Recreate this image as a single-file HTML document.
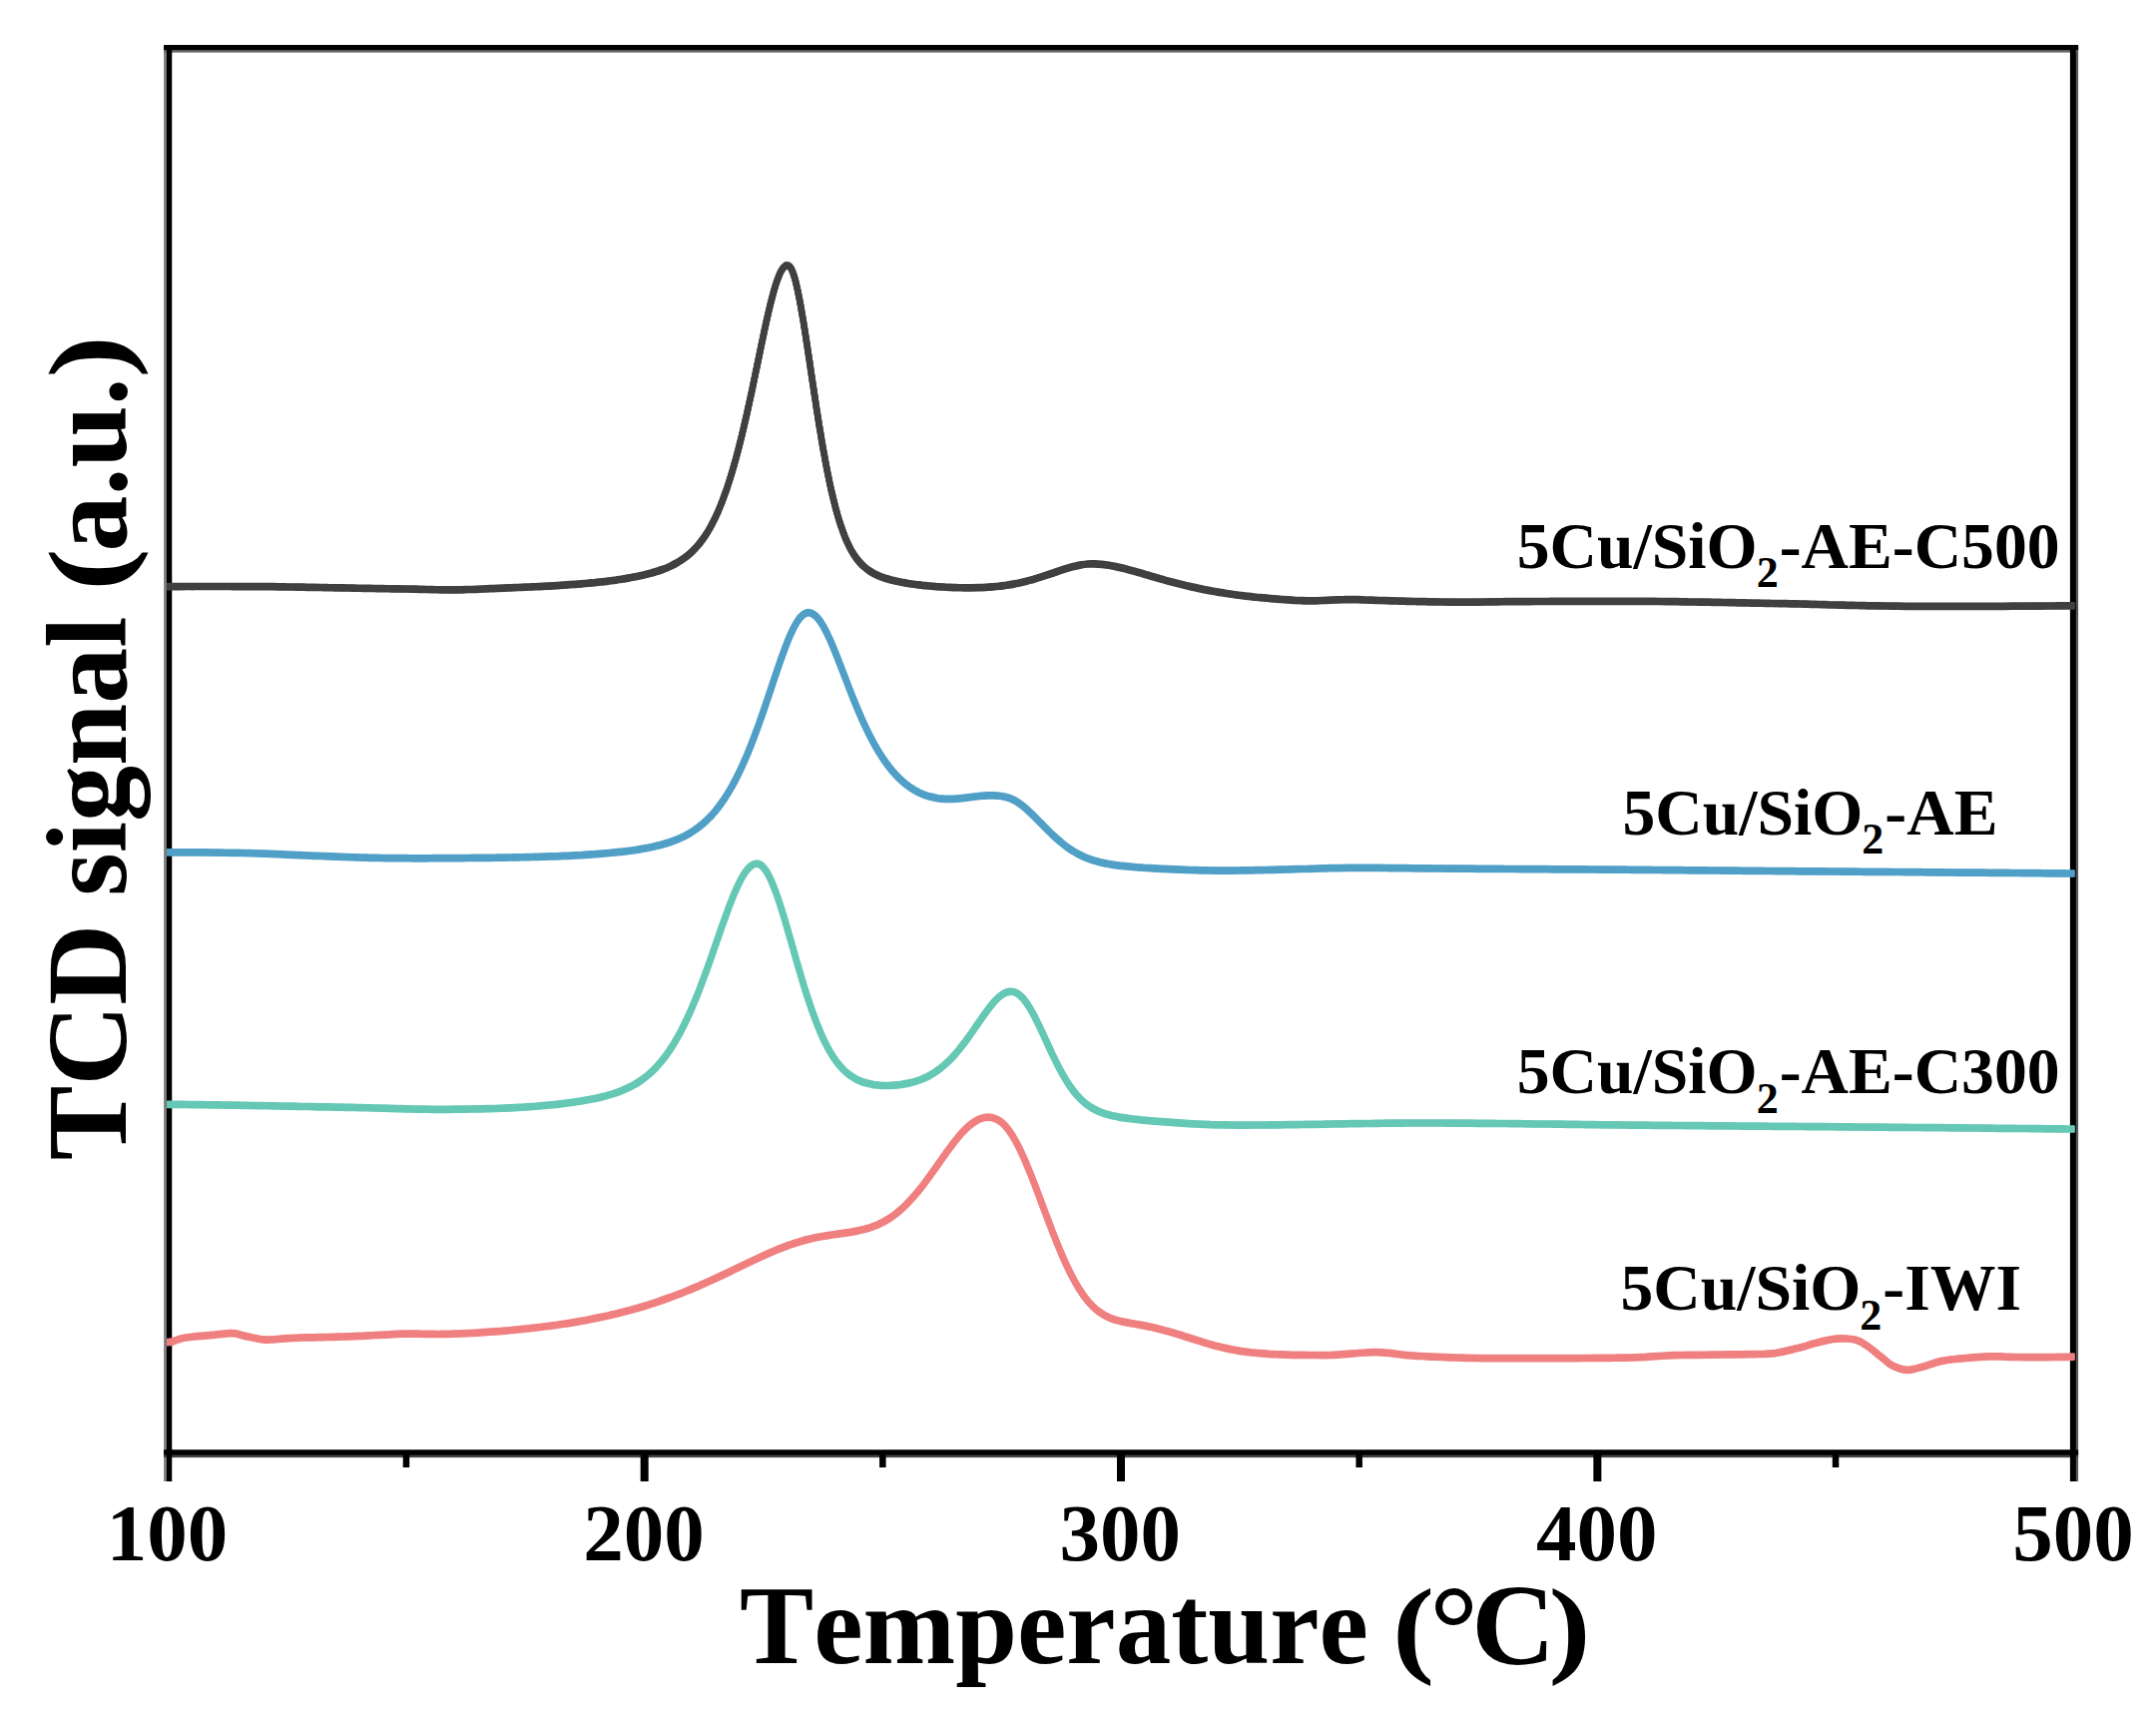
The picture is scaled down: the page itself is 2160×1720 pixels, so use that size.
<!DOCTYPE html>
<html lang="en"><head><meta charset="utf-8"><title>H2-TPR profiles</title>
<style>
html,body{margin:0;padding:0;background:#fff;}
body{width:2160px;height:1720px;overflow:hidden;}
svg{display:block;}
text{font-family:"Liberation Serif",serif;font-weight:bold;fill:#000;font-kerning:none;font-variant-ligatures:none;}
</style></head>
<body>
<svg width="2160" height="1720" viewBox="0 0 2160 1720">
<rect width="2160" height="1720" fill="#fff"/>
<g fill="#000">
<rect x="164.1" y="45" width="8.1" height="1439" fill="#808080"/>
<rect x="2074" y="45" width="8.1" height="1439" fill="#555"/>
<rect x="164.1" y="45" width="1918" height="7.6" fill="#666"/>
<rect x="164.1" y="1452.4" width="1918" height="7.7" fill="#444"/>
<rect x="166.9" y="45" width="5.3" height="1439"/>
<rect x="2073.9" y="45" width="5.9" height="1439"/>
<rect x="164.1" y="45" width="1918" height="5.1"/>
<rect x="164.1" y="1452.4" width="1918" height="5.2"/>
<rect x="641.65" y="1456" width="8" height="28"/><rect x="1119.00" y="1456" width="8" height="28"/><rect x="1596.35" y="1456" width="8" height="28"/><rect x="403.73" y="1456" width="6.5" height="14"/><rect x="881.08" y="1456" width="6.5" height="14"/><rect x="1358.42" y="1456" width="6.5" height="14"/><rect x="1835.78" y="1456" width="6.5" height="14"/>
</g>
<g fill="none" stroke-width="6.5" stroke-linejoin="round" stroke-linecap="butt">
<path id="c_red" d="M167.0 1344.6C169.3 1344.6 171.7 1344.4 173.8 1343.6C176.0 1342.7 178.2 1341.8 180.4 1341.2C182.7 1340.5 185.0 1340.1 187.3 1339.8C189.6 1339.4 192.0 1339.2 194.3 1339.0C196.6 1338.7 199.0 1338.5 201.3 1338.3C203.6 1338.2 206.0 1338.0 208.3 1337.8C210.6 1337.6 213.0 1337.3 215.3 1337.1C217.6 1336.8 220.0 1336.5 222.3 1336.3C224.6 1336.1 227.0 1335.8 229.3 1335.7C231.6 1335.6 234.0 1335.5 236.3 1335.9C238.6 1336.3 240.8 1337.1 243.1 1337.7C245.3 1338.4 247.6 1338.9 249.9 1339.3C252.2 1339.8 254.5 1340.4 256.8 1340.8C259.1 1341.3 261.4 1341.7 263.7 1341.9C266.1 1342.2 268.4 1342.1 270.8 1342.0C273.1 1341.9 275.4 1341.7 277.8 1341.5C280.1 1341.3 282.5 1341.1 284.8 1340.9C287.1 1340.7 289.5 1340.5 291.8 1340.4C294.1 1340.2 296.5 1340.1 298.8 1340.1C301.2 1340.0 303.5 1340.0 305.8 1339.9C308.2 1339.9 310.5 1339.8 312.9 1339.8C315.2 1339.7 317.6 1339.6 319.9 1339.6C322.2 1339.6 324.6 1339.5 326.9 1339.5C329.3 1339.4 331.6 1339.4 334.0 1339.3C336.3 1339.2 338.6 1339.2 341.0 1339.1C343.3 1339.0 345.7 1339.0 348.0 1338.9C350.4 1338.8 352.7 1338.7 355.0 1338.6C357.4 1338.5 359.7 1338.4 362.1 1338.3C364.4 1338.2 366.7 1338.1 369.1 1337.9C371.4 1337.8 373.8 1337.7 376.1 1337.5C378.4 1337.4 380.8 1337.3 383.1 1337.2C385.5 1337.0 387.8 1336.9 390.1 1336.8C392.5 1336.6 394.8 1336.5 397.2 1336.4C399.5 1336.3 401.8 1336.2 404.2 1336.2C406.5 1336.2 408.9 1336.1 411.2 1336.1C413.6 1336.1 415.9 1336.2 418.3 1336.2C420.6 1336.2 422.9 1336.3 425.3 1336.3C427.6 1336.3 430.0 1336.4 432.3 1336.4C434.7 1336.4 437.0 1336.5 439.3 1336.5C441.7 1336.5 444.0 1336.4 446.4 1336.4C448.7 1336.4 451.1 1336.3 453.4 1336.2C455.7 1336.1 458.1 1336.1 460.4 1336.0C462.8 1335.9 465.1 1335.8 467.5 1335.7C469.8 1335.6 472.1 1335.4 474.5 1335.3C476.8 1335.2 479.2 1335.1 481.5 1334.9C483.8 1334.8 486.2 1334.6 488.5 1334.4C490.8 1334.3 493.2 1334.1 495.5 1333.9C497.9 1333.7 500.2 1333.5 502.5 1333.4C504.9 1333.2 507.2 1333.0 509.5 1332.8C511.9 1332.5 514.2 1332.3 516.5 1332.1C518.9 1331.9 521.2 1331.6 523.5 1331.4C525.9 1331.2 528.2 1330.9 530.5 1330.7C532.8 1330.4 535.2 1330.1 537.5 1329.9C539.8 1329.6 542.2 1329.3 544.5 1329.0C546.8 1328.8 549.1 1328.4 551.5 1328.1C553.8 1327.8 556.1 1327.5 558.4 1327.2C560.7 1326.8 563.1 1326.5 565.4 1326.2C567.7 1325.8 570.0 1325.4 572.3 1325.1C574.6 1324.7 576.9 1324.3 579.3 1323.9C581.6 1323.5 583.9 1323.1 586.2 1322.7C588.5 1322.2 590.8 1321.8 593.1 1321.3C595.4 1320.9 597.7 1320.4 600.0 1319.9C602.3 1319.5 604.6 1319.0 606.8 1318.5C609.1 1318.0 611.4 1317.4 613.7 1316.9C616.0 1316.4 618.3 1315.8 620.5 1315.2C622.8 1314.7 625.1 1314.1 627.3 1313.5C629.6 1312.9 631.9 1312.3 634.1 1311.7C636.4 1311.0 638.6 1310.4 640.9 1309.7C643.1 1309.1 645.4 1308.4 647.6 1307.7C649.9 1307.0 652.1 1306.3 654.3 1305.6C656.5 1304.8 658.8 1304.1 661.0 1303.3C663.2 1302.6 665.4 1301.8 667.6 1301.0C669.8 1300.2 672.0 1299.4 674.2 1298.6C676.4 1297.8 678.6 1297.0 680.8 1296.1C683.0 1295.3 685.2 1294.4 687.3 1293.5C689.5 1292.6 691.7 1291.7 693.8 1290.8C696.0 1289.9 698.2 1289.0 700.3 1288.1C702.4 1287.1 704.6 1286.2 706.7 1285.2C708.9 1284.3 711.0 1283.3 713.1 1282.3C715.3 1281.4 717.4 1280.4 719.5 1279.4C721.6 1278.4 723.8 1277.4 725.9 1276.4C728.0 1275.4 730.1 1274.4 732.2 1273.4C734.3 1272.3 736.5 1271.3 738.6 1270.3C740.7 1269.3 742.8 1268.3 744.9 1267.3C747.0 1266.2 749.1 1265.2 751.2 1264.2C753.3 1263.2 755.5 1262.2 757.6 1261.2C759.7 1260.2 761.8 1259.2 764.0 1258.2C766.1 1257.3 768.2 1256.3 770.4 1255.4C772.5 1254.4 774.7 1253.5 776.8 1252.6C779.0 1251.7 781.2 1250.8 783.4 1250.0C785.5 1249.1 787.7 1248.3 789.9 1247.5C792.2 1246.7 794.4 1245.9 796.6 1245.2C798.8 1244.5 801.1 1243.8 803.3 1243.2C805.6 1242.5 807.8 1241.9 810.1 1241.4C812.4 1240.8 814.7 1240.3 817.0 1239.8C819.3 1239.3 821.6 1238.9 823.9 1238.5C826.2 1238.1 828.5 1237.7 830.8 1237.4C833.1 1237.0 835.5 1236.7 837.8 1236.4C840.1 1236.1 842.4 1235.7 844.7 1235.4C847.1 1235.1 849.4 1234.7 851.7 1234.4C854.0 1234.0 856.3 1233.6 858.6 1233.1C860.9 1232.7 863.2 1232.2 865.5 1231.6C867.7 1231.0 870.0 1230.3 872.2 1229.6C874.4 1228.8 876.6 1228.0 878.8 1227.1C880.9 1226.1 883.0 1225.1 885.1 1224.0C887.2 1222.9 889.2 1221.7 891.2 1220.4C893.1 1219.1 895.0 1217.8 896.9 1216.4C898.8 1214.9 900.6 1213.4 902.3 1211.9C904.1 1210.3 905.8 1208.7 907.5 1207.1C909.1 1205.4 910.7 1203.7 912.3 1202.0C913.9 1200.3 915.5 1198.5 917.0 1196.8C918.5 1195.0 920.0 1193.2 921.5 1191.3C922.9 1189.5 924.4 1187.6 925.8 1185.8C927.2 1183.9 928.6 1182.0 930.0 1180.1C931.4 1178.3 932.7 1176.4 934.1 1174.4C935.5 1172.5 936.8 1170.6 938.2 1168.7C939.5 1166.8 940.9 1164.9 942.2 1163.0C943.6 1161.0 944.9 1159.1 946.3 1157.2C947.6 1155.3 949.0 1153.4 950.4 1151.5C951.8 1149.6 953.2 1147.8 954.6 1145.9C956.0 1144.0 957.5 1142.2 959.0 1140.4C960.4 1138.6 962.0 1136.8 963.5 1135.0C965.1 1133.3 966.8 1131.6 968.4 1130.0C970.1 1128.4 971.9 1126.9 973.8 1125.5C975.7 1124.0 977.6 1122.8 979.7 1121.7C981.8 1120.7 984.1 1119.9 986.4 1119.5C988.7 1119.1 991.1 1119.1 993.4 1119.5C995.7 1119.9 997.9 1120.8 1000.0 1121.9C1002.0 1123.0 1003.8 1124.5 1005.5 1126.2C1007.2 1127.8 1008.7 1129.6 1010.1 1131.5C1011.5 1133.4 1012.8 1135.3 1014.1 1137.3C1015.3 1139.3 1016.5 1141.3 1017.6 1143.3C1018.8 1145.4 1019.8 1147.5 1020.9 1149.6C1021.9 1151.7 1022.9 1153.8 1023.9 1155.9C1024.9 1158.1 1025.9 1160.2 1026.8 1162.3C1027.7 1164.5 1028.6 1166.6 1029.5 1168.8C1030.4 1171.0 1031.3 1173.1 1032.2 1175.3C1033.1 1177.5 1033.9 1179.7 1034.8 1181.9C1035.6 1184.0 1036.5 1186.2 1037.3 1188.4C1038.2 1190.6 1039.0 1192.8 1039.8 1195.0C1040.6 1197.2 1041.5 1199.4 1042.3 1201.6C1043.1 1203.8 1043.9 1206.0 1044.7 1208.2C1045.6 1210.4 1046.4 1212.6 1047.2 1214.7C1048.0 1216.9 1048.9 1219.1 1049.7 1221.3C1050.5 1223.5 1051.3 1225.7 1052.2 1227.9C1053.0 1230.1 1053.8 1232.3 1054.7 1234.5C1055.5 1236.7 1056.4 1238.8 1057.3 1241.0C1058.1 1243.2 1059.0 1245.4 1059.9 1247.5C1060.8 1249.7 1061.7 1251.9 1062.6 1254.0C1063.5 1256.2 1064.4 1258.3 1065.4 1260.5C1066.3 1262.6 1067.3 1264.8 1068.3 1266.9C1069.3 1269.0 1070.3 1271.1 1071.3 1273.2C1072.3 1275.3 1073.4 1277.4 1074.5 1279.5C1075.6 1281.6 1076.7 1283.6 1077.9 1285.7C1079.1 1287.7 1080.3 1289.7 1081.5 1291.7C1082.8 1293.7 1084.1 1295.6 1085.4 1297.5C1086.8 1299.4 1088.2 1301.3 1089.7 1303.1C1091.2 1304.9 1092.8 1306.6 1094.5 1308.3C1096.1 1309.9 1097.9 1311.5 1099.7 1313.0C1101.5 1314.4 1103.5 1315.7 1105.5 1316.9C1107.5 1318.2 1109.6 1319.2 1111.8 1320.1C1113.9 1321.0 1116.1 1321.8 1118.4 1322.4C1120.6 1323.1 1122.9 1323.6 1125.2 1324.1C1127.5 1324.6 1129.8 1325.0 1132.1 1325.4C1134.5 1325.8 1136.8 1326.1 1139.1 1326.6C1141.4 1327.0 1143.7 1327.4 1146.0 1327.9C1148.3 1328.4 1150.6 1328.8 1152.9 1329.3C1155.1 1329.8 1157.4 1330.4 1159.7 1330.9C1162.0 1331.5 1164.2 1332.1 1166.5 1332.7C1168.8 1333.2 1171.0 1333.9 1173.3 1334.5C1175.5 1335.2 1177.8 1335.9 1180.0 1336.6C1182.3 1337.2 1184.5 1337.9 1186.7 1338.7C1189.0 1339.4 1191.2 1340.1 1193.4 1340.8C1195.7 1341.5 1197.9 1342.2 1200.1 1342.9C1202.4 1343.6 1204.6 1344.3 1206.8 1345.0C1209.1 1345.7 1211.3 1346.4 1213.6 1347.0C1215.9 1347.6 1218.1 1348.2 1220.4 1348.8C1222.7 1349.4 1224.9 1349.9 1227.2 1350.4C1229.5 1350.9 1231.8 1351.4 1234.1 1351.9C1236.4 1352.3 1238.7 1352.7 1241.0 1353.1C1243.3 1353.5 1245.7 1353.8 1248.0 1354.1C1250.3 1354.5 1252.6 1354.7 1255.0 1355.0C1257.3 1355.3 1259.6 1355.5 1262.0 1355.7C1264.3 1355.9 1266.6 1356.1 1269.0 1356.2C1271.3 1356.4 1273.6 1356.5 1276.0 1356.6C1278.3 1356.7 1280.7 1356.8 1283.0 1356.9C1285.4 1357.0 1287.7 1357.1 1290.0 1357.1C1292.4 1357.2 1294.7 1357.3 1297.1 1357.3C1299.4 1357.3 1301.8 1357.4 1304.1 1357.4C1306.4 1357.4 1308.8 1357.5 1311.1 1357.5C1313.5 1357.5 1315.8 1357.5 1318.2 1357.5C1320.5 1357.6 1322.8 1357.6 1325.2 1357.6C1327.5 1357.6 1329.9 1357.6 1332.2 1357.5C1334.6 1357.5 1336.9 1357.4 1339.2 1357.2C1341.6 1357.1 1343.9 1356.9 1346.2 1356.7C1348.6 1356.5 1350.9 1356.3 1353.3 1356.1C1355.6 1355.9 1357.9 1355.7 1360.3 1355.5C1362.6 1355.2 1364.9 1355.1 1367.3 1355.0C1369.6 1354.8 1371.9 1354.7 1374.3 1354.6C1376.6 1354.6 1379.0 1354.6 1381.3 1354.7C1383.7 1354.8 1386.0 1354.9 1388.3 1355.2C1390.7 1355.4 1393.0 1355.6 1395.3 1355.9C1397.6 1356.2 1400.0 1356.5 1402.3 1356.8C1404.6 1357.1 1406.9 1357.4 1409.3 1357.6C1411.6 1357.8 1414.0 1358.0 1416.3 1358.1C1418.6 1358.3 1421.0 1358.4 1423.3 1358.5C1425.7 1358.6 1428.0 1358.7 1430.3 1358.9C1432.7 1359.0 1435.0 1359.1 1437.4 1359.2C1439.7 1359.3 1442.0 1359.4 1444.4 1359.5C1446.7 1359.6 1449.1 1359.7 1451.4 1359.8C1453.7 1359.9 1456.1 1359.9 1458.4 1360.0C1460.8 1360.1 1463.1 1360.2 1465.5 1360.2C1467.8 1360.3 1470.1 1360.4 1472.5 1360.4C1474.8 1360.5 1477.2 1360.5 1479.5 1360.5C1481.9 1360.5 1484.2 1360.6 1486.5 1360.6C1488.9 1360.6 1491.2 1360.6 1493.6 1360.6C1495.9 1360.6 1498.3 1360.6 1500.6 1360.6C1503.0 1360.6 1505.3 1360.6 1507.6 1360.6C1510.0 1360.6 1512.3 1360.6 1514.7 1360.6C1517.0 1360.6 1519.4 1360.6 1521.7 1360.6C1524.0 1360.6 1526.4 1360.6 1528.7 1360.6C1531.1 1360.6 1533.4 1360.6 1535.8 1360.6C1538.1 1360.6 1540.5 1360.6 1542.8 1360.6C1545.1 1360.6 1547.5 1360.6 1549.8 1360.6C1552.2 1360.6 1554.5 1360.6 1556.9 1360.6C1559.2 1360.6 1561.6 1360.6 1563.9 1360.6C1566.2 1360.6 1568.6 1360.6 1570.9 1360.6C1573.3 1360.6 1575.6 1360.6 1578.0 1360.6C1580.3 1360.6 1582.6 1360.6 1585.0 1360.5C1587.3 1360.5 1589.7 1360.5 1592.0 1360.5C1594.4 1360.5 1596.7 1360.5 1599.0 1360.4C1601.4 1360.4 1603.7 1360.4 1606.1 1360.4C1608.4 1360.4 1610.8 1360.3 1613.1 1360.3C1615.5 1360.3 1617.8 1360.2 1620.1 1360.2C1622.5 1360.2 1624.8 1360.2 1627.2 1360.1C1629.5 1360.1 1631.9 1360.0 1634.2 1360.0C1636.5 1359.9 1638.9 1359.8 1641.2 1359.7C1643.6 1359.5 1645.9 1359.4 1648.2 1359.3C1650.6 1359.1 1652.9 1359.0 1655.3 1358.8C1657.6 1358.7 1659.9 1358.5 1662.3 1358.4C1664.6 1358.2 1666.9 1358.1 1669.3 1358.0C1671.6 1357.9 1674.0 1357.8 1676.3 1357.7C1678.7 1357.6 1681.0 1357.6 1683.3 1357.5C1685.7 1357.5 1688.0 1357.5 1690.4 1357.4C1692.7 1357.4 1695.1 1357.4 1697.4 1357.4C1699.7 1357.3 1702.1 1357.3 1704.4 1357.3C1706.8 1357.3 1709.1 1357.2 1711.5 1357.2C1713.8 1357.2 1716.1 1357.2 1718.5 1357.1C1720.8 1357.1 1723.2 1357.1 1725.5 1357.0C1727.9 1357.0 1730.2 1357.0 1732.6 1356.9C1734.9 1356.9 1737.2 1356.9 1739.6 1356.8C1741.9 1356.8 1744.3 1356.8 1746.6 1356.8C1749.0 1356.7 1751.3 1356.7 1753.6 1356.6C1756.0 1356.6 1758.3 1356.5 1760.7 1356.5C1763.0 1356.4 1765.4 1356.3 1767.7 1356.3C1770.0 1356.2 1772.4 1356.1 1774.7 1355.9C1777.1 1355.8 1779.4 1355.4 1781.7 1355.0C1784.0 1354.6 1786.3 1354.1 1788.6 1353.6C1790.8 1353.0 1793.1 1352.4 1795.4 1351.9C1797.7 1351.3 1799.9 1350.7 1802.2 1350.2C1804.5 1349.6 1806.8 1349.0 1809.0 1348.4C1811.3 1347.7 1813.5 1347.0 1815.7 1346.3C1818.0 1345.7 1820.2 1345.0 1822.5 1344.4C1824.8 1343.8 1827.1 1343.3 1829.4 1342.9C1831.7 1342.4 1833.9 1341.9 1836.3 1341.5C1838.6 1341.1 1840.9 1340.8 1843.2 1340.8C1845.6 1340.8 1847.9 1340.9 1850.3 1341.0C1852.6 1341.2 1854.9 1341.4 1857.3 1341.7C1859.6 1342.0 1861.8 1342.9 1863.8 1344.0C1865.9 1345.2 1867.8 1346.5 1869.8 1347.7C1871.8 1349.0 1873.7 1350.4 1875.5 1351.8C1877.3 1353.3 1879.1 1354.8 1880.9 1356.3C1882.7 1357.8 1884.6 1359.2 1886.4 1360.7C1888.2 1362.2 1889.9 1363.8 1891.8 1365.3C1893.6 1366.7 1895.6 1368.0 1897.8 1368.8C1899.9 1369.7 1902.1 1370.6 1904.4 1371.3C1906.6 1372.0 1908.9 1372.4 1911.3 1372.4C1913.6 1372.4 1915.9 1371.9 1918.2 1371.3C1920.5 1370.7 1922.7 1370.0 1925.0 1369.5C1927.3 1368.9 1929.5 1368.2 1931.7 1367.5C1934.0 1366.7 1936.2 1365.9 1938.4 1365.2C1940.6 1364.5 1942.9 1363.8 1945.2 1363.4C1947.5 1363.0 1949.8 1362.6 1952.1 1362.3C1954.4 1362.0 1956.8 1361.7 1959.1 1361.5C1961.4 1361.2 1963.8 1361.0 1966.1 1360.8C1968.4 1360.6 1970.8 1360.4 1973.1 1360.2C1975.4 1360.0 1977.8 1359.8 1980.1 1359.6C1982.4 1359.4 1984.8 1359.2 1987.1 1359.1C1989.5 1359.0 1991.8 1358.9 1994.1 1358.8C1996.5 1358.8 1998.8 1358.8 2001.2 1358.8C2003.5 1358.9 2005.9 1359.0 2008.2 1359.1C2010.5 1359.1 2012.9 1359.2 2015.2 1359.3C2017.6 1359.4 2019.9 1359.5 2022.3 1359.5C2024.6 1359.6 2026.9 1359.6 2029.3 1359.6C2031.6 1359.6 2034.0 1359.6 2036.3 1359.6C2038.7 1359.6 2041.0 1359.6 2043.4 1359.6C2045.7 1359.6 2048.0 1359.6 2050.4 1359.6C2052.7 1359.5 2055.1 1359.5 2057.4 1359.5C2059.8 1359.5 2062.1 1359.4 2064.4 1359.4C2066.8 1359.4 2069.1 1359.3 2071.5 1359.3C2073.8 1359.2 2076.2 1359.2 2078.5 1359.2" stroke="#F08080"/><use href="#c_red" y="0.6" stroke="#F08080"/><use href="#c_red" y="-0.6" stroke="#F08080"/>
<path id="c_green" d="M167.0 1106.3C169.3 1106.3 171.7 1106.3 174.0 1106.3C176.4 1106.4 178.7 1106.4 181.1 1106.4C183.4 1106.4 185.8 1106.5 188.1 1106.5C190.5 1106.5 192.8 1106.6 195.2 1106.6C197.5 1106.6 199.8 1106.7 202.2 1106.7C204.5 1106.7 206.9 1106.8 209.2 1106.8C211.6 1106.8 213.9 1106.9 216.3 1106.9C218.6 1106.9 221.0 1107.0 223.3 1107.0C225.6 1107.0 228.0 1107.1 230.3 1107.1C232.7 1107.1 235.0 1107.2 237.4 1107.2C239.7 1107.3 242.1 1107.3 244.4 1107.3C246.8 1107.4 249.1 1107.4 251.4 1107.5C253.8 1107.5 256.1 1107.5 258.5 1107.6C260.8 1107.6 263.2 1107.6 265.5 1107.7C267.9 1107.7 270.2 1107.8 272.6 1107.8C274.9 1107.9 277.2 1107.9 279.6 1108.0C281.9 1108.0 284.3 1108.0 286.6 1108.1C289.0 1108.1 291.3 1108.2 293.7 1108.2C296.0 1108.3 298.4 1108.3 300.7 1108.4C303.0 1108.4 305.4 1108.4 307.7 1108.5C310.1 1108.6 312.4 1108.6 314.8 1108.6C317.1 1108.7 319.5 1108.8 321.8 1108.8C324.2 1108.8 326.5 1108.9 328.8 1108.9C331.2 1109.0 333.5 1109.0 335.9 1109.1C338.2 1109.1 340.6 1109.2 342.9 1109.2C345.3 1109.3 347.6 1109.3 350.0 1109.4C352.3 1109.4 354.6 1109.5 357.0 1109.5C359.3 1109.6 361.7 1109.6 364.0 1109.7C366.4 1109.7 368.7 1109.8 371.1 1109.8C373.4 1109.9 375.8 1110.0 378.1 1110.0C380.4 1110.1 382.8 1110.2 385.1 1110.2C387.5 1110.3 389.8 1110.4 392.2 1110.4C394.5 1110.5 396.9 1110.6 399.2 1110.6C401.6 1110.7 403.9 1110.7 406.2 1110.8C408.6 1110.9 410.9 1110.9 413.3 1111.0C415.6 1111.0 418.0 1111.1 420.3 1111.1C422.7 1111.2 425.0 1111.2 427.4 1111.2C429.7 1111.3 432.0 1111.3 434.4 1111.3C436.7 1111.3 439.1 1111.3 441.4 1111.3C443.8 1111.3 446.1 1111.3 448.5 1111.3C450.8 1111.3 453.2 1111.3 455.5 1111.2C457.9 1111.2 460.2 1111.2 462.5 1111.2C464.9 1111.1 467.2 1111.1 469.6 1111.0C471.9 1111.0 474.3 1111.0 476.6 1110.9C479.0 1110.9 481.3 1110.8 483.7 1110.8C486.0 1110.7 488.3 1110.7 490.7 1110.6C493.0 1110.5 495.4 1110.4 497.7 1110.4C500.1 1110.3 502.4 1110.2 504.8 1110.1C507.1 1110.0 509.4 1109.9 511.8 1109.8C514.1 1109.7 516.5 1109.6 518.8 1109.4C521.2 1109.3 523.5 1109.2 525.8 1109.0C528.2 1108.9 530.5 1108.7 532.9 1108.5C535.2 1108.3 537.5 1108.2 539.9 1108.0C542.2 1107.8 544.6 1107.6 546.9 1107.3C549.2 1107.1 551.6 1106.9 553.9 1106.7C556.2 1106.4 558.6 1106.2 560.9 1105.9C563.2 1105.6 565.5 1105.3 567.9 1105.0C570.2 1104.7 572.5 1104.4 574.9 1104.1C577.2 1103.7 579.5 1103.4 581.8 1103.0C584.1 1102.6 586.4 1102.2 588.7 1101.8C591.1 1101.4 593.4 1100.9 595.6 1100.5C597.9 1100.0 600.2 1099.5 602.5 1098.9C604.8 1098.4 607.1 1097.8 609.3 1097.1C611.6 1096.5 613.8 1095.8 616.0 1095.1C618.3 1094.3 620.5 1093.5 622.7 1092.6C624.8 1091.8 627.0 1090.8 629.1 1089.8C631.2 1088.8 633.3 1087.7 635.4 1086.6C637.4 1085.4 639.4 1084.2 641.3 1082.9C643.3 1081.6 645.2 1080.2 647.0 1078.7C648.9 1077.3 650.6 1075.7 652.4 1074.2C654.1 1072.6 655.8 1070.9 657.4 1069.2C659.0 1067.5 660.5 1065.7 662.0 1063.9C663.5 1062.1 665.0 1060.3 666.4 1058.4C667.8 1056.5 669.2 1054.6 670.5 1052.7C671.8 1050.7 673.1 1048.8 674.3 1046.8C675.6 1044.8 676.8 1042.8 677.9 1040.7C679.1 1038.7 680.2 1036.6 681.3 1034.6C682.4 1032.5 683.5 1030.4 684.5 1028.3C685.6 1026.2 686.6 1024.1 687.6 1022.0C688.6 1019.9 689.6 1017.7 690.6 1015.6C691.5 1013.5 692.5 1011.3 693.4 1009.1C694.3 1007.0 695.2 1004.8 696.1 1002.7C697.0 1000.5 697.9 998.3 698.8 996.1C699.6 994.0 700.5 991.8 701.3 989.6C702.2 987.4 703.0 985.2 703.8 983.0C704.7 980.8 705.5 978.6 706.3 976.4C707.1 974.2 707.9 972.0 708.7 969.8C709.5 967.6 710.3 965.4 711.1 963.2C711.8 960.9 712.6 958.7 713.4 956.5C714.2 954.3 714.9 952.1 715.7 949.9C716.5 947.7 717.3 945.4 718.0 943.2C718.8 941.0 719.6 938.8 720.3 936.6C721.1 934.4 721.9 932.1 722.6 929.9C723.4 927.7 724.2 925.5 725.0 923.3C725.8 921.1 726.6 918.9 727.4 916.7C728.2 914.4 729.0 912.2 729.8 910.0C730.6 907.8 731.4 905.7 732.3 903.5C733.1 901.3 734.0 899.1 734.9 896.9C735.8 894.8 736.7 892.6 737.7 890.5C738.6 888.3 739.6 886.2 740.7 884.1C741.7 882.0 742.8 879.9 744.0 877.9C745.2 875.9 746.5 873.9 747.9 872.0C749.3 870.2 750.9 868.4 752.9 867.1C754.8 865.7 757.2 864.8 759.5 865.3C761.8 865.8 763.6 867.5 765.1 869.3C766.7 871.1 767.9 873.1 769.1 875.1C770.2 877.1 771.3 879.2 772.3 881.4C773.2 883.5 774.1 885.7 775.0 887.9C775.9 890.0 776.7 892.2 777.5 894.4C778.3 896.6 779.1 898.9 779.8 901.1C780.6 903.3 781.3 905.5 782.0 907.8C782.7 910.0 783.4 912.3 784.1 914.5C784.8 916.7 785.5 919.0 786.2 921.2C786.8 923.5 787.5 925.7 788.2 928.0C788.8 930.2 789.5 932.5 790.1 934.7C790.8 937.0 791.4 939.3 792.1 941.5C792.7 943.8 793.3 946.0 794.0 948.3C794.6 950.5 795.3 952.8 795.9 955.0C796.6 957.3 797.2 959.6 797.8 961.8C798.5 964.1 799.1 966.3 799.8 968.6C800.5 970.8 801.1 973.1 801.8 975.3C802.4 977.6 803.1 979.8 803.8 982.1C804.5 984.3 805.1 986.6 805.8 988.8C806.5 991.1 807.2 993.3 807.9 995.5C808.7 997.8 809.4 1000.0 810.1 1002.2C810.8 1004.5 811.6 1006.7 812.4 1008.9C813.1 1011.1 813.9 1013.3 814.7 1015.5C815.5 1017.7 816.3 1020.0 817.1 1022.1C818.0 1024.3 818.8 1026.5 819.7 1028.7C820.6 1030.9 821.5 1033.0 822.4 1035.2C823.3 1037.3 824.3 1039.5 825.3 1041.6C826.3 1043.7 827.4 1045.8 828.5 1047.9C829.5 1050.0 830.7 1052.0 831.9 1054.1C833.1 1056.1 834.3 1058.1 835.6 1060.0C836.9 1062.0 838.3 1063.9 839.8 1065.7C841.2 1067.5 842.8 1069.3 844.4 1071.0C846.0 1072.7 847.8 1074.3 849.6 1075.7C851.4 1077.2 853.4 1078.5 855.4 1079.7C857.4 1080.9 859.5 1082.0 861.7 1082.9C863.8 1083.8 866.1 1084.5 868.3 1085.1C870.6 1085.7 872.9 1086.2 875.2 1086.6C877.5 1086.9 879.9 1087.1 882.2 1087.3C884.6 1087.4 886.9 1087.5 889.3 1087.5C891.6 1087.4 893.9 1087.3 896.3 1087.1C898.6 1086.9 901.0 1086.7 903.3 1086.4C905.6 1086.0 907.9 1085.6 910.2 1085.1C912.5 1084.6 914.8 1084.1 917.0 1083.4C919.3 1082.7 921.5 1081.9 923.7 1081.0C925.8 1080.1 928.0 1079.2 930.0 1078.1C932.1 1077.0 934.1 1075.8 936.1 1074.5C938.1 1073.2 940.0 1071.9 941.9 1070.4C943.7 1069.0 945.5 1067.5 947.2 1065.9C949.0 1064.3 950.7 1062.7 952.3 1061.0C954.0 1059.4 955.5 1057.6 957.1 1055.9C958.6 1054.1 960.2 1052.3 961.6 1050.5C963.1 1048.7 964.5 1046.8 966.0 1044.9C967.4 1043.1 968.8 1041.2 970.1 1039.3C971.5 1037.4 972.9 1035.5 974.2 1033.5C975.5 1031.6 976.9 1029.7 978.2 1027.7C979.5 1025.8 980.9 1023.9 982.2 1021.9C983.5 1020.0 984.9 1018.1 986.2 1016.2C987.6 1014.3 989.0 1012.4 990.4 1010.5C991.8 1008.6 993.3 1006.8 994.8 1005.0C996.3 1003.2 997.9 1001.5 999.6 999.9C1001.3 998.3 1003.1 996.8 1005.2 995.6C1007.2 994.4 1009.4 993.5 1011.8 993.3C1014.1 993.1 1016.5 993.6 1018.5 994.8C1020.6 995.9 1022.4 997.5 1024.0 999.2C1025.6 1000.9 1027.0 1002.7 1028.4 1004.6C1029.7 1006.6 1031.0 1008.6 1032.2 1010.6C1033.4 1012.6 1034.5 1014.6 1035.6 1016.7C1036.7 1018.8 1037.8 1020.9 1038.8 1023.0C1039.9 1025.1 1040.9 1027.2 1041.9 1029.3C1042.9 1031.4 1043.9 1033.6 1044.9 1035.7C1045.9 1037.8 1046.8 1040.0 1047.8 1042.1C1048.8 1044.2 1049.8 1046.4 1050.8 1048.5C1051.7 1050.6 1052.7 1052.7 1053.7 1054.9C1054.7 1057.0 1055.8 1059.1 1056.8 1061.2C1057.8 1063.3 1058.9 1065.4 1059.9 1067.5C1061.0 1069.6 1062.1 1071.7 1063.2 1073.7C1064.4 1075.8 1065.5 1077.8 1066.7 1079.8C1067.9 1081.9 1069.1 1083.9 1070.4 1085.8C1071.7 1087.8 1073.1 1089.7 1074.5 1091.6C1075.9 1093.5 1077.3 1095.3 1078.9 1097.1C1080.4 1098.8 1082.1 1100.5 1083.8 1102.1C1085.5 1103.7 1087.3 1105.3 1089.2 1106.7C1091.0 1108.1 1093.0 1109.3 1095.0 1110.5C1097.1 1111.6 1099.2 1112.7 1101.4 1113.6C1103.5 1114.5 1105.7 1115.3 1108.0 1116.0C1110.2 1116.6 1112.5 1117.2 1114.8 1117.7C1117.1 1118.2 1119.4 1118.7 1121.7 1119.1C1124.0 1119.5 1126.3 1119.8 1128.7 1120.1C1131.0 1120.5 1133.3 1120.7 1135.6 1121.0C1138.0 1121.3 1140.3 1121.5 1142.6 1121.8C1145.0 1122.0 1147.3 1122.3 1149.6 1122.5C1152.0 1122.7 1154.3 1122.9 1156.7 1123.1C1159.0 1123.3 1161.3 1123.5 1163.7 1123.7C1166.0 1123.9 1168.3 1124.1 1170.7 1124.2C1173.0 1124.4 1175.4 1124.6 1177.7 1124.7C1180.0 1124.9 1182.4 1125.1 1184.7 1125.2C1187.1 1125.3 1189.4 1125.5 1191.8 1125.6C1194.1 1125.7 1196.4 1125.9 1198.8 1126.0C1201.1 1126.1 1203.5 1126.2 1205.8 1126.3C1208.2 1126.4 1210.5 1126.5 1212.9 1126.6C1215.2 1126.6 1217.5 1126.7 1219.9 1126.8C1222.2 1126.8 1224.6 1126.9 1226.9 1126.9C1229.3 1127.0 1231.6 1127.0 1234.0 1127.0C1236.3 1127.0 1238.7 1127.1 1241.0 1127.1C1243.3 1127.1 1245.7 1127.1 1248.0 1127.1C1250.4 1127.1 1252.7 1127.1 1255.1 1127.0C1257.4 1127.0 1259.8 1127.0 1262.1 1127.0C1264.5 1127.0 1266.8 1127.0 1269.2 1127.0C1271.5 1126.9 1273.8 1126.9 1276.2 1126.9C1278.5 1126.9 1280.9 1126.8 1283.2 1126.8C1285.6 1126.8 1287.9 1126.7 1290.3 1126.7C1292.6 1126.7 1295.0 1126.6 1297.3 1126.6C1299.6 1126.6 1302.0 1126.5 1304.3 1126.5C1306.7 1126.5 1309.0 1126.4 1311.4 1126.4C1313.7 1126.4 1316.1 1126.3 1318.4 1126.3C1320.8 1126.2 1323.1 1126.2 1325.4 1126.2C1327.8 1126.1 1330.1 1126.1 1332.5 1126.0C1334.8 1126.0 1337.2 1126.0 1339.5 1125.9C1341.9 1125.9 1344.2 1125.8 1346.6 1125.8C1348.9 1125.8 1351.3 1125.7 1353.6 1125.7C1355.9 1125.7 1358.3 1125.6 1360.6 1125.6C1363.0 1125.5 1365.3 1125.5 1367.7 1125.5C1370.0 1125.4 1372.4 1125.4 1374.7 1125.4C1377.1 1125.3 1379.4 1125.3 1381.7 1125.3C1384.1 1125.3 1386.4 1125.2 1388.8 1125.2C1391.1 1125.2 1393.5 1125.1 1395.8 1125.1C1398.2 1125.1 1400.5 1125.1 1402.9 1125.1C1405.2 1125.1 1407.6 1125.0 1409.9 1125.0C1412.2 1125.0 1414.6 1125.0 1416.9 1125.0C1419.3 1125.0 1421.6 1125.0 1424.0 1125.0C1426.3 1125.0 1428.7 1125.0 1431.0 1125.0C1433.4 1125.0 1435.7 1125.0 1438.1 1125.0C1440.4 1125.0 1442.7 1125.0 1445.1 1125.0C1447.4 1125.1 1449.8 1125.1 1452.1 1125.1C1454.5 1125.1 1456.8 1125.1 1459.2 1125.1C1461.5 1125.1 1463.9 1125.2 1466.2 1125.2C1468.6 1125.2 1470.9 1125.2 1473.2 1125.2C1475.6 1125.2 1477.9 1125.2 1480.3 1125.3C1482.6 1125.3 1485.0 1125.3 1487.3 1125.3C1489.7 1125.3 1492.0 1125.4 1494.4 1125.4C1496.7 1125.4 1499.1 1125.4 1501.4 1125.5C1503.7 1125.5 1506.1 1125.5 1508.4 1125.5C1510.8 1125.6 1513.1 1125.6 1515.5 1125.6C1517.8 1125.6 1520.2 1125.7 1522.5 1125.7C1524.9 1125.7 1527.2 1125.8 1529.5 1125.8C1531.9 1125.8 1534.2 1125.8 1536.6 1125.9C1538.9 1125.9 1541.3 1125.9 1543.6 1126.0C1546.0 1126.0 1548.3 1126.0 1550.7 1126.0C1553.0 1126.1 1555.4 1126.1 1557.7 1126.1C1560.0 1126.2 1562.4 1126.2 1564.7 1126.2C1567.1 1126.3 1569.4 1126.3 1571.8 1126.3C1574.1 1126.3 1576.5 1126.4 1578.8 1126.4C1581.2 1126.4 1583.5 1126.5 1585.8 1126.5C1588.2 1126.5 1590.5 1126.6 1592.9 1126.6C1595.2 1126.6 1597.6 1126.6 1599.9 1126.7C1602.3 1126.7 1604.6 1126.7 1607.0 1126.8C1609.3 1126.8 1611.6 1126.8 1614.0 1126.8C1616.3 1126.9 1618.7 1126.9 1621.0 1126.9C1623.4 1127.0 1625.7 1127.0 1628.1 1127.0C1630.4 1127.0 1632.8 1127.1 1635.1 1127.1C1637.5 1127.1 1639.8 1127.1 1642.1 1127.2C1644.5 1127.2 1646.8 1127.2 1649.2 1127.2C1651.5 1127.3 1653.9 1127.3 1656.2 1127.3C1658.6 1127.3 1660.9 1127.3 1663.3 1127.4C1665.6 1127.4 1668.0 1127.4 1670.3 1127.4C1672.6 1127.4 1675.0 1127.5 1677.3 1127.5C1679.7 1127.5 1682.0 1127.5 1684.4 1127.5C1686.7 1127.6 1689.1 1127.6 1691.4 1127.6C1693.8 1127.6 1696.1 1127.6 1698.5 1127.7C1700.8 1127.7 1703.1 1127.7 1705.5 1127.7C1707.8 1127.7 1710.2 1127.8 1712.5 1127.8C1714.9 1127.8 1717.2 1127.8 1719.6 1127.8C1721.9 1127.8 1724.3 1127.9 1726.6 1127.9C1728.9 1127.9 1731.3 1127.9 1733.6 1127.9C1736.0 1128.0 1738.3 1128.0 1740.7 1128.0C1743.0 1128.0 1745.4 1128.0 1747.7 1128.1C1750.1 1128.1 1752.4 1128.1 1754.8 1128.1C1757.1 1128.1 1759.4 1128.2 1761.8 1128.2C1764.1 1128.2 1766.5 1128.2 1768.8 1128.2C1771.2 1128.2 1773.5 1128.3 1775.9 1128.3C1778.2 1128.3 1780.6 1128.3 1782.9 1128.3C1785.3 1128.3 1787.6 1128.4 1789.9 1128.4C1792.3 1128.4 1794.6 1128.4 1797.0 1128.4C1799.3 1128.5 1801.7 1128.5 1804.0 1128.5C1806.4 1128.5 1808.7 1128.5 1811.1 1128.6C1813.4 1128.6 1815.8 1128.6 1818.1 1128.6C1820.4 1128.6 1822.8 1128.7 1825.1 1128.7C1827.5 1128.7 1829.8 1128.7 1832.2 1128.7C1834.5 1128.7 1836.9 1128.8 1839.2 1128.8C1841.6 1128.8 1843.9 1128.8 1846.2 1128.8C1848.6 1128.9 1850.9 1128.9 1853.3 1128.9C1855.6 1128.9 1858.0 1128.9 1860.3 1129.0C1862.7 1129.0 1865.0 1129.0 1867.4 1129.0C1869.7 1129.0 1872.1 1129.1 1874.4 1129.1C1876.7 1129.1 1879.1 1129.1 1881.4 1129.1C1883.8 1129.2 1886.1 1129.2 1888.5 1129.2C1890.8 1129.2 1893.2 1129.2 1895.5 1129.3C1897.9 1129.3 1900.2 1129.3 1902.6 1129.3C1904.9 1129.3 1907.2 1129.4 1909.6 1129.4C1911.9 1129.4 1914.3 1129.4 1916.6 1129.5C1919.0 1129.5 1921.3 1129.5 1923.7 1129.5C1926.0 1129.5 1928.4 1129.6 1930.7 1129.6C1933.1 1129.6 1935.4 1129.6 1937.7 1129.7C1940.1 1129.7 1942.4 1129.7 1944.8 1129.7C1947.1 1129.7 1949.5 1129.8 1951.8 1129.8C1954.2 1129.8 1956.5 1129.8 1958.9 1129.8C1961.2 1129.9 1963.5 1129.9 1965.9 1129.9C1968.2 1129.9 1970.6 1130.0 1972.9 1130.0C1975.3 1130.0 1977.6 1130.0 1980.0 1130.0C1982.3 1130.1 1984.7 1130.1 1987.0 1130.1C1989.4 1130.1 1991.7 1130.2 1994.0 1130.2C1996.4 1130.2 1998.7 1130.2 2001.1 1130.3C2003.4 1130.3 2005.8 1130.3 2008.1 1130.3C2010.5 1130.3 2012.8 1130.4 2015.2 1130.4C2017.5 1130.4 2019.9 1130.4 2022.2 1130.5C2024.5 1130.5 2026.9 1130.5 2029.2 1130.5C2031.6 1130.5 2033.9 1130.6 2036.3 1130.6C2038.6 1130.6 2041.0 1130.7 2043.3 1130.7C2045.7 1130.7 2048.0 1130.7 2050.3 1130.8C2052.7 1130.8 2055.0 1130.8 2057.4 1130.8C2059.7 1130.9 2062.1 1130.9 2064.4 1130.9C2066.8 1130.9 2069.1 1130.9 2071.5 1131.0C2073.8 1131.0 2076.2 1131.0 2078.5 1131.0" stroke="#65C8B5"/><use href="#c_green" y="0.6" stroke="#65C8B5"/><use href="#c_green" y="-0.6" stroke="#65C8B5"/>
<path id="c_blue" d="M167.0 853.8C169.3 853.8 171.7 853.8 174.0 853.8C176.4 853.8 178.7 853.8 181.1 853.8C183.4 853.8 185.8 853.8 188.1 853.8C190.5 853.8 192.8 853.8 195.2 853.8C197.5 853.9 199.9 853.9 202.2 853.9C204.6 853.9 206.9 854.0 209.2 854.0C211.6 854.0 213.9 854.0 216.3 854.1C218.6 854.1 221.0 854.1 223.3 854.2C225.7 854.2 228.0 854.3 230.4 854.3C232.7 854.3 235.1 854.4 237.4 854.4C239.7 854.5 242.1 854.5 244.4 854.5C246.8 854.6 249.1 854.6 251.5 854.7C253.8 854.7 256.2 854.8 258.5 854.9C260.9 854.9 263.2 855.0 265.6 855.1C267.9 855.2 270.2 855.3 272.6 855.4C274.9 855.5 277.3 855.6 279.6 855.7C282.0 855.8 284.3 856.0 286.7 856.1C289.0 856.2 291.3 856.3 293.7 856.4C296.0 856.5 298.4 856.6 300.7 856.7C303.1 856.8 305.4 856.9 307.8 857.0C310.1 857.1 312.4 857.2 314.8 857.3C317.1 857.4 319.5 857.4 321.8 857.5C324.2 857.6 326.5 857.7 328.9 857.8C331.2 857.9 333.6 858.0 335.9 858.1C338.2 858.2 340.6 858.3 342.9 858.4C345.3 858.5 347.6 858.5 350.0 858.6C352.3 858.7 354.7 858.8 357.0 858.9C359.4 859.0 361.7 859.0 364.0 859.1C366.4 859.2 368.7 859.2 371.1 859.3C373.4 859.3 375.8 859.4 378.1 859.4C380.5 859.5 382.8 859.5 385.2 859.6C387.5 859.6 389.9 859.6 392.2 859.6C394.5 859.7 396.9 859.7 399.2 859.7C401.6 859.7 403.9 859.7 406.3 859.7C408.6 859.7 411.0 859.8 413.3 859.8C415.7 859.8 418.0 859.8 420.4 859.8C422.7 859.8 425.1 859.8 427.4 859.8C429.8 859.8 432.1 859.7 434.4 859.7C436.8 859.7 439.1 859.7 441.5 859.7C443.8 859.7 446.2 859.7 448.5 859.7C450.9 859.7 453.2 859.6 455.6 859.6C457.9 859.6 460.3 859.6 462.6 859.6C465.0 859.5 467.3 859.5 469.6 859.5C472.0 859.5 474.3 859.4 476.7 859.4C479.0 859.4 481.4 859.4 483.7 859.4C486.1 859.3 488.4 859.3 490.8 859.3C493.1 859.2 495.5 859.2 497.8 859.2C500.2 859.1 502.5 859.1 504.8 859.1C507.2 859.0 509.5 859.0 511.9 859.0C514.2 858.9 516.6 858.9 518.9 858.8C521.3 858.8 523.6 858.7 526.0 858.7C528.3 858.6 530.7 858.6 533.0 858.5C535.3 858.4 537.7 858.4 540.0 858.3C542.4 858.2 544.7 858.2 547.1 858.1C549.4 858.0 551.8 857.9 554.1 857.8C556.5 857.8 558.8 857.7 561.1 857.6C563.5 857.5 565.8 857.4 568.2 857.3C570.5 857.2 572.9 857.1 575.2 856.9C577.6 856.8 579.9 856.7 582.2 856.6C584.6 856.4 586.9 856.3 589.3 856.1C591.6 856.0 594.0 855.8 596.3 855.7C598.6 855.5 601.0 855.3 603.3 855.1C605.7 854.9 608.0 854.7 610.3 854.5C612.7 854.3 615.0 854.1 617.3 853.8C619.7 853.6 622.0 853.3 624.3 853.1C626.7 852.8 629.0 852.5 631.3 852.2C633.7 851.9 636.0 851.6 638.3 851.2C640.6 850.8 642.9 850.4 645.2 850.0C647.5 849.6 649.9 849.2 652.1 848.7C654.4 848.2 656.7 847.7 659.0 847.1C661.3 846.6 663.6 846.0 665.8 845.3C668.1 844.6 670.3 843.9 672.5 843.2C674.7 842.4 676.9 841.5 679.1 840.6C681.2 839.7 683.4 838.7 685.5 837.7C687.6 836.6 689.6 835.5 691.6 834.3C693.7 833.1 695.6 831.8 697.5 830.4C699.4 829.1 701.3 827.6 703.1 826.1C704.9 824.6 706.7 823.1 708.3 821.4C710.0 819.8 711.7 818.1 713.3 816.4C714.8 814.6 716.4 812.9 717.8 811.0C719.3 809.2 720.7 807.3 722.1 805.4C723.5 803.5 724.8 801.6 726.1 799.6C727.4 797.7 728.6 795.7 729.8 793.7C731.1 791.7 732.2 789.6 733.4 787.6C734.5 785.5 735.6 783.5 736.7 781.4C737.8 779.3 738.9 777.2 739.9 775.1C740.9 773.0 741.9 770.9 742.9 768.7C743.9 766.6 744.8 764.5 745.8 762.3C746.7 760.2 747.7 758.0 748.6 755.8C749.5 753.7 750.4 751.5 751.2 749.3C752.1 747.2 753.0 745.0 753.8 742.8C754.7 740.6 755.5 738.4 756.3 736.2C757.1 734.0 757.9 731.8 758.8 729.6C759.6 727.4 760.4 725.2 761.1 723.0C761.9 720.8 762.7 718.5 763.5 716.3C764.2 714.1 765.0 711.9 765.8 709.7C766.5 707.4 767.3 705.2 768.0 703.0C768.8 700.8 769.5 698.5 770.3 696.3C771.0 694.1 771.8 691.9 772.5 689.6C773.2 687.4 774.0 685.2 774.7 683.0C775.5 680.7 776.2 678.5 777.0 676.3C777.7 674.1 778.5 671.8 779.2 669.6C780.0 667.4 780.7 665.2 781.5 663.0C782.3 660.7 783.1 658.5 783.9 656.3C784.7 654.1 785.5 651.9 786.3 649.7C787.1 647.5 788.0 645.3 788.8 643.1C789.7 641.0 790.6 638.8 791.5 636.6C792.5 634.5 793.5 632.4 794.5 630.3C795.5 628.2 796.6 626.1 797.9 624.1C799.1 622.1 800.4 620.1 801.9 618.3C803.5 616.6 805.3 614.9 807.5 614.1C809.7 613.3 812.2 613.8 814.3 614.9C816.3 616.0 818.0 617.7 819.5 619.5C821.0 621.3 822.4 623.3 823.6 625.3C824.8 627.3 826.0 629.3 827.0 631.4C828.1 633.5 829.1 635.6 830.1 637.7C831.1 639.9 832.1 642.0 833.0 644.2C833.9 646.3 834.8 648.5 835.7 650.7C836.6 652.8 837.5 655.0 838.3 657.2C839.2 659.4 840.1 661.6 840.9 663.8C841.8 665.9 842.6 668.1 843.4 670.3C844.3 672.5 845.1 674.7 846.0 676.9C846.8 679.1 847.6 681.3 848.5 683.5C849.3 685.7 850.2 687.9 851.0 690.0C851.9 692.2 852.7 694.4 853.6 696.6C854.5 698.8 855.3 701.0 856.2 703.1C857.1 705.3 858.0 707.5 858.9 709.6C859.8 711.8 860.7 714.0 861.7 716.1C862.6 718.3 863.5 720.4 864.5 722.6C865.5 724.7 866.5 726.8 867.5 728.9C868.5 731.1 869.5 733.2 870.6 735.3C871.6 737.4 872.7 739.5 873.8 741.5C874.9 743.6 876.0 745.7 877.2 747.7C878.3 749.7 879.5 751.8 880.8 753.8C882.0 755.8 883.3 757.7 884.6 759.7C885.9 761.6 887.2 763.6 888.6 765.4C890.0 767.3 891.4 769.2 892.9 771.0C894.4 772.8 896.0 774.6 897.6 776.3C899.2 778.0 900.8 779.7 902.6 781.3C904.3 782.9 906.1 784.4 907.9 785.9C909.7 787.3 911.7 788.7 913.6 789.9C915.6 791.2 917.6 792.4 919.7 793.4C921.8 794.5 924.0 795.4 926.2 796.3C928.4 797.1 930.6 797.8 932.9 798.3C935.2 798.9 937.5 799.3 939.8 799.7C942.1 800.0 944.5 800.2 946.8 800.3C949.2 800.4 951.5 800.4 953.9 800.3C956.2 800.2 958.6 800.1 960.9 799.9C963.2 799.7 965.6 799.4 967.9 799.1C970.2 798.8 972.5 798.5 974.9 798.2C977.2 798.0 979.5 797.7 981.9 797.4C984.2 797.2 986.5 797.0 988.9 796.9C991.2 796.8 993.6 796.8 995.9 796.9C998.3 797.0 1000.6 797.2 1002.9 797.5C1005.3 797.9 1007.6 798.3 1009.8 799.0C1012.1 799.7 1014.2 800.6 1016.3 801.7C1018.3 802.9 1020.3 804.1 1022.2 805.5C1024.1 806.9 1025.9 808.4 1027.7 809.9C1029.5 811.5 1031.2 813.1 1032.9 814.7C1034.6 816.3 1036.3 817.9 1037.9 819.6C1039.6 821.3 1041.2 823.0 1042.9 824.6C1044.5 826.3 1046.1 828.0 1047.8 829.7C1049.5 831.3 1051.1 833.0 1052.8 834.6C1054.5 836.2 1056.2 837.9 1057.9 839.4C1059.7 841.0 1061.4 842.5 1063.3 844.0C1065.1 845.5 1066.9 847.0 1068.8 848.4C1070.7 849.7 1072.6 851.1 1074.6 852.3C1076.6 853.6 1078.7 854.7 1080.7 855.8C1082.8 856.9 1084.9 857.9 1087.1 858.8C1089.3 859.7 1091.5 860.6 1093.7 861.3C1095.9 862.1 1098.2 862.7 1100.4 863.3C1102.7 863.9 1105.0 864.4 1107.3 864.9C1109.6 865.3 1111.9 865.7 1114.2 866.1C1116.6 866.5 1118.9 866.8 1121.2 867.1C1123.5 867.3 1125.9 867.6 1128.2 867.8C1130.5 868.1 1132.9 868.3 1135.2 868.5C1137.6 868.7 1139.9 868.8 1142.2 869.0C1144.6 869.2 1146.9 869.3 1149.3 869.5C1151.6 869.6 1153.9 869.8 1156.3 869.9C1158.6 870.0 1161.0 870.1 1163.3 870.3C1165.7 870.4 1168.0 870.5 1170.4 870.6C1172.7 870.7 1175.0 870.8 1177.4 870.9C1179.7 871.0 1182.1 871.1 1184.4 871.2C1186.8 871.3 1189.1 871.4 1191.5 871.5C1193.8 871.6 1196.1 871.7 1198.5 871.7C1200.8 871.8 1203.2 871.9 1205.5 871.9C1207.9 871.9 1210.2 872.0 1212.6 872.0C1214.9 872.0 1217.3 872.1 1219.6 872.1C1222.0 872.1 1224.3 872.1 1226.7 872.1C1229.0 872.1 1231.3 872.1 1233.7 872.1C1236.0 872.1 1238.4 872.0 1240.7 872.0C1243.1 872.0 1245.4 871.9 1247.8 871.9C1250.1 871.9 1252.5 871.8 1254.8 871.8C1257.2 871.7 1259.5 871.7 1261.9 871.6C1264.2 871.6 1266.5 871.5 1268.9 871.5C1271.2 871.4 1273.6 871.3 1275.9 871.3C1278.3 871.2 1280.6 871.2 1283.0 871.1C1285.3 871.0 1287.7 870.9 1290.0 870.9C1292.3 870.8 1294.7 870.8 1297.0 870.7C1299.4 870.6 1301.7 870.5 1304.1 870.5C1306.4 870.4 1308.8 870.3 1311.1 870.3C1313.5 870.2 1315.8 870.1 1318.2 870.1C1320.5 870.0 1322.8 870.0 1325.2 869.9C1327.5 869.8 1329.9 869.8 1332.2 869.7C1334.6 869.7 1336.9 869.6 1339.3 869.6C1341.6 869.6 1344.0 869.5 1346.3 869.5C1348.7 869.5 1351.0 869.4 1353.3 869.4C1355.7 869.4 1358.0 869.4 1360.4 869.4C1362.7 869.4 1365.1 869.3 1367.4 869.3C1369.8 869.3 1372.1 869.4 1374.5 869.4C1376.8 869.4 1379.2 869.4 1381.5 869.4C1383.9 869.5 1386.2 869.5 1388.5 869.5C1390.9 869.5 1393.2 869.6 1395.6 869.6C1397.9 869.6 1400.3 869.6 1402.6 869.6C1405.0 869.7 1407.3 869.7 1409.7 869.7C1412.0 869.7 1414.4 869.8 1416.7 869.8C1419.1 869.8 1421.4 869.8 1423.7 869.8C1426.1 869.9 1428.4 869.9 1430.8 869.9C1433.1 869.9 1435.5 869.9 1437.8 870.0C1440.2 870.0 1442.5 870.0 1444.9 870.0C1447.2 870.0 1449.6 870.1 1451.9 870.1C1454.3 870.1 1456.6 870.1 1459.0 870.1C1461.3 870.1 1463.6 870.2 1466.0 870.2C1468.3 870.2 1470.7 870.2 1473.0 870.2C1475.4 870.3 1477.7 870.3 1480.1 870.3C1482.4 870.3 1484.8 870.3 1487.1 870.3C1489.5 870.4 1491.8 870.4 1494.2 870.4C1496.5 870.4 1498.8 870.4 1501.2 870.4C1503.5 870.4 1505.9 870.5 1508.2 870.5C1510.6 870.5 1512.9 870.5 1515.3 870.5C1517.6 870.5 1520.0 870.5 1522.3 870.6C1524.7 870.6 1527.0 870.6 1529.4 870.6C1531.7 870.6 1534.0 870.6 1536.4 870.6C1538.7 870.7 1541.1 870.7 1543.4 870.7C1545.8 870.7 1548.1 870.7 1550.5 870.7C1552.8 870.7 1555.2 870.7 1557.5 870.8C1559.9 870.8 1562.2 870.8 1564.6 870.8C1566.9 870.8 1569.3 870.8 1571.6 870.8C1573.9 870.9 1576.3 870.9 1578.6 870.9C1581.0 870.9 1583.3 870.9 1585.7 870.9C1588.0 870.9 1590.4 871.0 1592.7 871.0C1595.1 871.0 1597.4 871.0 1599.8 871.0C1602.1 871.0 1604.5 871.1 1606.8 871.1C1609.1 871.1 1611.5 871.1 1613.8 871.1C1616.2 871.1 1618.5 871.2 1620.9 871.2C1623.2 871.2 1625.6 871.2 1627.9 871.2C1630.3 871.2 1632.6 871.3 1635.0 871.3C1637.3 871.3 1639.7 871.3 1642.0 871.4C1644.4 871.4 1646.7 871.4 1649.0 871.4C1651.4 871.4 1653.7 871.5 1656.1 871.5C1658.4 871.5 1660.8 871.5 1663.1 871.5C1665.5 871.5 1667.8 871.6 1670.2 871.6C1672.5 871.6 1674.9 871.6 1677.2 871.6C1679.6 871.7 1681.9 871.7 1684.2 871.7C1686.6 871.7 1688.9 871.8 1691.3 871.8C1693.6 871.8 1696.0 871.8 1698.3 871.8C1700.7 871.9 1703.0 871.9 1705.4 871.9C1707.7 871.9 1710.1 872.0 1712.4 872.0C1714.8 872.0 1717.1 872.0 1719.4 872.0C1721.8 872.1 1724.1 872.1 1726.5 872.1C1728.8 872.1 1731.2 872.1 1733.5 872.2C1735.9 872.2 1738.2 872.2 1740.6 872.2C1742.9 872.2 1745.3 872.3 1747.6 872.3C1750.0 872.3 1752.3 872.3 1754.6 872.4C1757.0 872.4 1759.3 872.4 1761.7 872.4C1764.0 872.4 1766.4 872.5 1768.7 872.5C1771.1 872.5 1773.4 872.5 1775.8 872.5C1778.1 872.6 1780.5 872.6 1782.8 872.6C1785.2 872.6 1787.5 872.6 1789.8 872.7C1792.2 872.7 1794.5 872.7 1796.9 872.7C1799.2 872.7 1801.6 872.7 1803.9 872.8C1806.3 872.8 1808.6 872.8 1811.0 872.8C1813.3 872.8 1815.7 872.9 1818.0 872.9C1820.4 872.9 1822.7 872.9 1825.0 872.9C1827.4 872.9 1829.7 873.0 1832.1 873.0C1834.4 873.0 1836.8 873.0 1839.1 873.0C1841.5 873.1 1843.8 873.1 1846.2 873.1C1848.5 873.1 1850.9 873.1 1853.2 873.2C1855.6 873.2 1857.9 873.2 1860.3 873.2C1862.6 873.2 1864.9 873.3 1867.3 873.3C1869.6 873.3 1872.0 873.3 1874.3 873.3C1876.7 873.3 1879.0 873.4 1881.4 873.4C1883.7 873.4 1886.1 873.4 1888.4 873.4C1890.8 873.5 1893.1 873.5 1895.5 873.5C1897.8 873.5 1900.1 873.5 1902.5 873.5C1904.8 873.6 1907.2 873.6 1909.5 873.6C1911.9 873.6 1914.2 873.7 1916.6 873.7C1918.9 873.7 1921.3 873.7 1923.6 873.7C1926.0 873.7 1928.3 873.8 1930.7 873.8C1933.0 873.8 1935.3 873.8 1937.7 873.8C1940.0 873.9 1942.4 873.9 1944.7 873.9C1947.1 873.9 1949.4 873.9 1951.8 874.0C1954.1 874.0 1956.5 874.0 1958.8 874.0C1961.2 874.0 1963.5 874.1 1965.9 874.1C1968.2 874.1 1970.5 874.1 1972.9 874.1C1975.2 874.1 1977.6 874.2 1979.9 874.2C1982.3 874.2 1984.6 874.2 1987.0 874.2C1989.3 874.3 1991.7 874.3 1994.0 874.3C1996.4 874.3 1998.7 874.4 2001.1 874.4C2003.4 874.4 2005.8 874.4 2008.1 874.4C2010.4 874.4 2012.8 874.5 2015.1 874.5C2017.5 874.5 2019.8 874.5 2022.2 874.5C2024.5 874.6 2026.9 874.6 2029.2 874.6C2031.6 874.6 2033.9 874.6 2036.3 874.7C2038.6 874.7 2041.0 874.7 2043.3 874.7C2045.6 874.7 2048.0 874.8 2050.3 874.8C2052.7 874.8 2055.0 874.8 2057.4 874.9C2059.7 874.9 2062.1 874.9 2064.4 874.9C2066.8 874.9 2069.1 875.0 2071.5 875.0C2073.8 875.0 2076.2 875.0 2078.5 875.0" stroke="#4F9FC7"/><use href="#c_blue" y="0.6" stroke="#4F9FC7"/><use href="#c_blue" y="-0.6" stroke="#4F9FC7"/>
<path id="c_black" d="M167.0 587.6C169.3 587.6 171.7 587.6 174.0 587.6C176.4 587.6 178.7 587.6 181.1 587.6C183.4 587.6 185.8 587.6 188.1 587.5C190.5 587.5 192.8 587.6 195.2 587.5C197.5 587.5 199.9 587.5 202.2 587.5C204.5 587.5 206.9 587.5 209.2 587.5C211.6 587.5 213.9 587.5 216.3 587.5C218.6 587.5 221.0 587.5 223.3 587.5C225.7 587.5 228.0 587.5 230.4 587.5C232.7 587.5 235.1 587.6 237.4 587.6C239.8 587.6 242.1 587.6 244.4 587.6C246.8 587.6 249.1 587.6 251.5 587.6C253.8 587.6 256.2 587.6 258.5 587.6C260.9 587.6 263.2 587.6 265.6 587.6C267.9 587.6 270.3 587.7 272.6 587.7C275.0 587.7 277.3 587.7 279.6 587.8C282.0 587.8 284.3 587.8 286.7 587.9C289.0 587.9 291.4 587.9 293.7 588.0C296.1 588.0 298.4 588.1 300.8 588.1C303.1 588.2 305.5 588.2 307.8 588.3C310.1 588.3 312.5 588.4 314.8 588.4C317.2 588.5 319.5 588.5 321.9 588.5C324.2 588.6 326.6 588.6 328.9 588.7C331.3 588.7 333.6 588.8 336.0 588.8C338.3 588.8 340.6 588.9 343.0 588.9C345.3 589.0 347.7 589.0 350.0 589.0C352.4 589.1 354.7 589.1 357.1 589.2C359.4 589.2 361.8 589.3 364.1 589.3C366.5 589.4 368.8 589.4 371.1 589.4C373.5 589.5 375.8 589.5 378.2 589.6C380.5 589.6 382.9 589.6 385.2 589.7C387.6 589.7 389.9 589.8 392.3 589.8C394.6 589.8 396.9 589.9 399.3 589.9C401.6 590.0 404.0 590.0 406.3 590.0C408.7 590.1 411.0 590.1 413.4 590.1C415.7 590.2 418.1 590.2 420.4 590.3C422.8 590.4 425.1 590.4 427.4 590.5C429.8 590.5 432.1 590.6 434.5 590.7C436.8 590.7 439.2 590.8 441.5 590.8C443.9 590.8 446.2 590.9 448.6 590.9C450.9 590.9 453.3 590.9 455.6 590.9C457.9 590.8 460.3 590.8 462.6 590.8C465.0 590.7 467.3 590.6 469.7 590.5C472.0 590.5 474.4 590.4 476.7 590.3C479.1 590.2 481.4 590.1 483.7 590.0C486.1 589.9 488.4 589.8 490.8 589.7C493.1 589.6 495.5 589.5 497.8 589.4C500.2 589.3 502.5 589.2 504.8 589.1C507.2 589.0 509.5 588.9 511.9 588.8C514.2 588.7 516.6 588.6 518.9 588.5C521.3 588.4 523.6 588.3 526.0 588.2C528.3 588.2 530.6 588.0 533.0 587.9C535.3 587.8 537.7 587.7 540.0 587.6C542.4 587.5 544.7 587.4 547.0 587.2C549.4 587.1 551.7 587.0 554.1 586.8C556.4 586.7 558.8 586.6 561.1 586.4C563.4 586.3 565.8 586.1 568.1 585.9C570.5 585.8 572.8 585.6 575.1 585.4C577.5 585.2 579.8 585.1 582.2 584.9C584.5 584.7 586.8 584.5 589.2 584.2C591.5 584.0 593.9 583.8 596.2 583.6C598.5 583.3 600.9 583.1 603.2 582.8C605.5 582.6 607.8 582.3 610.2 582.0C612.5 581.7 614.8 581.4 617.2 581.1C619.5 580.7 621.8 580.4 624.1 580.0C626.4 579.6 628.7 579.3 631.1 578.8C633.4 578.4 635.7 578.0 638.0 577.5C640.3 577.0 642.6 576.5 644.9 576.0C647.1 575.5 649.4 574.9 651.7 574.3C653.9 573.7 656.2 573.0 658.4 572.3C660.7 571.6 662.9 570.8 665.1 570.0C667.3 569.1 669.4 568.2 671.6 567.2C673.7 566.2 675.8 565.2 677.8 564.0C679.9 562.9 681.9 561.6 683.8 560.3C685.7 559.0 687.6 557.6 689.4 556.1C691.2 554.6 693.0 553.0 694.6 551.3C696.3 549.7 697.9 547.9 699.4 546.1C700.9 544.4 702.3 542.5 703.7 540.6C705.1 538.7 706.4 536.8 707.7 534.8C709.0 532.8 710.2 530.8 711.3 528.8C712.5 526.7 713.6 524.6 714.6 522.5C715.7 520.4 716.7 518.3 717.7 516.2C718.7 514.1 719.6 511.9 720.5 509.8C721.4 507.6 722.3 505.4 723.2 503.2C724.0 501.0 724.8 498.8 725.6 496.6C726.4 494.4 727.2 492.2 728.0 490.0C728.7 487.8 729.5 485.6 730.2 483.3C730.9 481.1 731.6 478.8 732.3 476.6C733.0 474.4 733.7 472.1 734.3 469.9C735.0 467.6 735.6 465.3 736.2 463.1C736.9 460.8 737.5 458.6 738.1 456.3C738.7 454.0 739.3 451.8 739.9 449.5C740.5 447.2 741.0 444.9 741.6 442.7C742.2 440.4 742.7 438.1 743.3 435.8C743.8 433.5 744.4 431.3 744.9 429.0C745.5 426.7 746.0 424.4 746.5 422.1C747.1 419.8 747.6 417.5 748.1 415.2C748.6 413.0 749.1 410.7 749.6 408.4C750.1 406.1 750.6 403.8 751.1 401.5C751.6 399.2 752.1 396.9 752.6 394.6C753.1 392.3 753.6 390.0 754.1 387.7C754.5 385.4 755.0 383.1 755.5 380.8C756.0 378.5 756.5 376.2 756.9 373.9C757.4 371.6 757.9 369.3 758.4 367.0C758.8 364.7 759.3 362.4 759.8 360.1C760.3 357.8 760.7 355.6 761.2 353.3C761.7 351.0 762.2 348.7 762.6 346.4C763.1 344.1 763.6 341.8 764.1 339.5C764.6 337.2 765.0 334.9 765.5 332.6C766.0 330.3 766.5 328.0 767.0 325.7C767.5 323.4 768.0 321.1 768.5 318.8C769.1 316.5 769.6 314.2 770.1 312.0C770.6 309.7 771.2 307.4 771.7 305.1C772.3 302.8 772.9 300.6 773.5 298.3C774.1 296.0 774.7 293.7 775.3 291.5C776.0 289.2 776.6 287.0 777.3 284.7C778.1 282.5 778.8 280.3 779.7 278.1C780.5 275.9 781.4 273.7 782.5 271.7C783.7 269.6 784.9 267.5 786.9 266.2C788.9 265.0 791.3 266.6 792.4 268.6C793.6 270.7 794.4 272.9 795.1 275.1C795.8 277.3 796.5 279.6 797.1 281.9C797.6 284.2 798.2 286.4 798.7 288.7C799.2 291.0 799.7 293.3 800.1 295.6C800.6 297.9 801.0 300.2 801.5 302.5C801.9 304.8 802.3 307.2 802.7 309.5C803.1 311.8 803.5 314.1 803.9 316.4C804.3 318.7 804.7 321.0 805.1 323.4C805.4 325.7 805.8 328.0 806.2 330.3C806.5 332.6 806.9 334.9 807.3 337.3C807.6 339.6 808.0 341.9 808.3 344.2C808.7 346.5 809.0 348.9 809.4 351.2C809.7 353.5 810.1 355.8 810.4 358.1C810.8 360.5 811.1 362.8 811.5 365.1C811.8 367.4 812.1 369.8 812.5 372.1C812.8 374.4 813.2 376.7 813.5 379.0C813.9 381.4 814.2 383.7 814.6 386.0C814.9 388.3 815.3 390.6 815.6 393.0C816.0 395.3 816.3 397.6 816.7 399.9C817.0 402.2 817.4 404.6 817.7 406.9C818.1 409.2 818.4 411.5 818.8 413.8C819.2 416.2 819.5 418.5 819.9 420.8C820.3 423.1 820.6 425.4 821.0 427.7C821.4 430.1 821.8 432.4 822.2 434.7C822.5 437.0 822.9 439.3 823.3 441.6C823.7 444.0 824.1 446.3 824.5 448.6C824.9 450.9 825.3 453.2 825.8 455.5C826.2 457.8 826.6 460.1 827.0 462.4C827.5 464.7 827.9 467.0 828.3 469.4C828.8 471.7 829.2 474.0 829.7 476.3C830.2 478.6 830.7 480.9 831.1 483.2C831.6 485.4 832.1 487.7 832.6 490.0C833.1 492.3 833.7 494.6 834.2 496.9C834.7 499.2 835.3 501.5 835.9 503.7C836.4 506.0 837.0 508.3 837.6 510.6C838.3 512.8 838.9 515.1 839.5 517.3C840.2 519.6 840.9 521.8 841.6 524.1C842.3 526.3 843.1 528.5 843.9 530.7C844.6 532.9 845.5 535.1 846.3 537.3C847.2 539.5 848.1 541.7 849.1 543.8C850.1 545.9 851.1 548.0 852.2 550.1C853.4 552.2 854.6 554.2 855.8 556.1C857.1 558.1 858.5 560.0 860.0 561.8C861.5 563.6 863.1 565.4 864.8 566.9C866.5 568.5 868.4 570.0 870.3 571.4C872.2 572.7 874.3 573.9 876.3 575.0C878.4 576.0 880.6 577.0 882.8 577.8C885.0 578.6 887.2 579.4 889.5 580.0C891.7 580.7 894.0 581.3 896.3 581.8C898.5 582.4 900.9 582.8 903.2 583.3C905.5 583.7 907.8 584.1 910.1 584.5C912.4 584.8 914.7 585.2 917.1 585.5C919.4 585.8 921.7 586.0 924.1 586.3C926.4 586.5 928.7 586.8 931.1 587.0C933.4 587.2 935.7 587.4 938.1 587.6C940.4 587.7 942.8 587.9 945.1 588.0C947.4 588.2 949.8 588.3 952.1 588.4C954.5 588.5 956.8 588.6 959.2 588.7C961.5 588.7 963.9 588.8 966.2 588.8C968.5 588.8 970.9 588.9 973.2 588.8C975.6 588.8 977.9 588.8 980.3 588.7C982.6 588.6 985.0 588.5 987.3 588.4C989.7 588.3 992.0 588.1 994.3 587.9C996.7 587.7 999.0 587.5 1001.3 587.2C1003.7 587.0 1006.0 586.6 1008.3 586.3C1010.6 585.9 1013.0 585.6 1015.3 585.1C1017.6 584.7 1019.9 584.2 1022.2 583.7C1024.4 583.2 1026.7 582.6 1029.0 582.1C1031.3 581.5 1033.5 580.8 1035.8 580.2C1038.0 579.5 1040.3 578.8 1042.5 578.1C1044.8 577.4 1047.0 576.7 1049.2 575.9C1051.4 575.2 1053.7 574.4 1055.9 573.7C1058.1 572.9 1060.3 572.2 1062.5 571.4C1064.8 570.7 1067.0 569.9 1069.2 569.3C1071.5 568.6 1073.7 567.9 1076.0 567.4C1078.3 566.8 1080.6 566.3 1082.9 565.9C1085.2 565.5 1087.5 565.2 1089.9 565.0C1092.2 564.8 1094.6 564.8 1096.9 564.9C1099.3 565.0 1101.6 565.2 1103.9 565.4C1106.3 565.7 1108.6 566.0 1110.9 566.3C1113.2 566.7 1115.5 567.1 1117.8 567.6C1120.1 568.1 1122.4 568.6 1124.7 569.1C1127.0 569.7 1129.3 570.3 1131.5 570.9C1133.8 571.5 1136.1 572.1 1138.3 572.7C1140.6 573.4 1142.8 574.0 1145.1 574.7C1147.3 575.4 1149.6 576.0 1151.8 576.7C1154.1 577.4 1156.3 578.0 1158.6 578.7C1160.8 579.3 1163.1 580.0 1165.4 580.6C1167.6 581.3 1169.9 581.9 1172.1 582.5C1174.4 583.1 1176.7 583.7 1178.9 584.3C1181.2 584.9 1183.5 585.5 1185.8 586.0C1188.1 586.6 1190.3 587.1 1192.6 587.6C1194.9 588.1 1197.2 588.7 1199.5 589.1C1201.8 589.6 1204.1 590.1 1206.4 590.6C1208.7 591.0 1211.0 591.4 1213.3 591.9C1215.6 592.3 1217.9 592.7 1220.2 593.1C1222.6 593.5 1224.9 593.8 1227.2 594.2C1229.5 594.6 1231.8 594.9 1234.2 595.2C1236.5 595.6 1238.8 595.9 1241.1 596.2C1243.5 596.5 1245.8 596.8 1248.1 597.1C1250.4 597.3 1252.8 597.6 1255.1 597.9C1257.4 598.1 1259.8 598.4 1262.1 598.6C1264.5 598.8 1266.8 599.0 1269.1 599.2C1271.5 599.4 1273.8 599.6 1276.1 599.8C1278.5 600.0 1280.8 600.2 1283.2 600.4C1285.5 600.5 1287.8 600.7 1290.2 600.8C1292.5 601.0 1294.9 601.1 1297.2 601.3C1299.6 601.4 1301.9 601.5 1304.2 601.6C1306.6 601.8 1308.9 601.8 1311.3 601.9C1313.6 601.9 1316.0 601.8 1318.3 601.8C1320.7 601.7 1323.0 601.6 1325.3 601.5C1327.7 601.4 1330.0 601.3 1332.4 601.2C1334.7 601.1 1337.1 600.9 1339.4 600.8C1341.8 600.7 1344.1 600.6 1346.4 600.6C1348.8 600.5 1351.1 600.5 1353.5 600.6C1355.8 600.6 1358.2 600.7 1360.5 600.7C1362.9 600.8 1365.2 600.9 1367.6 601.0C1369.9 601.0 1372.3 601.1 1374.6 601.2C1376.9 601.3 1379.3 601.4 1381.6 601.5C1384.0 601.5 1386.3 601.6 1388.7 601.7C1391.0 601.8 1393.4 601.8 1395.7 601.9C1398.1 602.0 1400.4 602.0 1402.7 602.1C1405.1 602.2 1407.4 602.2 1409.8 602.3C1412.1 602.4 1414.5 602.4 1416.8 602.5C1419.2 602.5 1421.5 602.6 1423.9 602.6C1426.2 602.7 1428.5 602.7 1430.9 602.8C1433.2 602.8 1435.6 602.9 1437.9 602.9C1440.3 603.0 1442.6 603.0 1445.0 603.0C1447.3 603.1 1449.7 603.1 1452.0 603.1C1454.4 603.2 1456.7 603.2 1459.0 603.2C1461.4 603.2 1463.7 603.2 1466.1 603.2C1468.4 603.2 1470.8 603.2 1473.1 603.2C1475.5 603.2 1477.8 603.2 1480.2 603.1C1482.5 603.1 1484.9 603.1 1487.2 603.0C1489.6 603.0 1491.9 603.0 1494.2 602.9C1496.6 602.9 1498.9 602.8 1501.3 602.8C1503.6 602.8 1506.0 602.7 1508.3 602.7C1510.7 602.7 1513.0 602.6 1515.4 602.6C1517.7 602.6 1520.1 602.6 1522.4 602.6C1524.7 602.6 1527.1 602.6 1529.4 602.6C1531.8 602.6 1534.1 602.5 1536.5 602.5C1538.8 602.5 1541.2 602.5 1543.5 602.5C1545.9 602.5 1548.2 602.5 1550.6 602.5C1552.9 602.5 1555.3 602.4 1557.6 602.4C1559.9 602.4 1562.3 602.4 1564.6 602.4C1567.0 602.4 1569.3 602.4 1571.7 602.4C1574.0 602.4 1576.4 602.3 1578.7 602.3C1581.1 602.3 1583.4 602.3 1585.8 602.3C1588.1 602.3 1590.5 602.3 1592.8 602.3C1595.1 602.3 1597.5 602.3 1599.8 602.3C1602.2 602.3 1604.5 602.3 1606.9 602.3C1609.2 602.3 1611.6 602.3 1613.9 602.3C1616.3 602.3 1618.6 602.3 1621.0 602.3C1623.3 602.3 1625.7 602.3 1628.0 602.3C1630.4 602.3 1632.7 602.3 1635.0 602.3C1637.4 602.3 1639.7 602.3 1642.1 602.3C1644.4 602.3 1646.8 602.3 1649.1 602.4C1651.5 602.4 1653.8 602.4 1656.2 602.4C1658.5 602.4 1660.9 602.4 1663.2 602.5C1665.5 602.5 1667.9 602.5 1670.2 602.6C1672.6 602.6 1674.9 602.6 1677.3 602.6C1679.6 602.7 1682.0 602.7 1684.3 602.8C1686.7 602.8 1689.0 602.8 1691.4 602.9C1693.7 602.9 1696.1 602.9 1698.4 603.0C1700.7 603.0 1703.1 603.1 1705.4 603.1C1707.8 603.1 1710.1 603.2 1712.5 603.2C1714.8 603.3 1717.2 603.3 1719.5 603.4C1721.9 603.4 1724.2 603.5 1726.5 603.5C1728.9 603.6 1731.2 603.6 1733.6 603.6C1735.9 603.7 1738.3 603.7 1740.6 603.8C1743.0 603.8 1745.3 603.9 1747.7 603.9C1750.0 604.0 1752.4 604.0 1754.7 604.1C1757.0 604.1 1759.4 604.2 1761.7 604.2C1764.1 604.2 1766.4 604.3 1768.8 604.3C1771.1 604.4 1773.5 604.4 1775.8 604.5C1778.2 604.5 1780.5 604.5 1782.9 604.6C1785.2 604.6 1787.5 604.7 1789.9 604.7C1792.2 604.8 1794.6 604.8 1796.9 604.9C1799.3 604.9 1801.6 605.0 1804.0 605.0C1806.3 605.1 1808.7 605.1 1811.0 605.2C1813.3 605.3 1815.7 605.3 1818.0 605.4C1820.4 605.5 1822.7 605.5 1825.1 605.6C1827.4 605.7 1829.8 605.7 1832.1 605.8C1834.5 605.8 1836.8 605.9 1839.2 606.0C1841.5 606.0 1843.8 606.1 1846.2 606.1C1848.5 606.2 1850.9 606.3 1853.2 606.3C1855.6 606.4 1857.9 606.4 1860.3 606.5C1862.6 606.5 1865.0 606.6 1867.3 606.6C1869.6 606.7 1872.0 606.8 1874.3 606.8C1876.7 606.8 1879.0 606.9 1881.4 606.9C1883.7 607.0 1886.1 607.0 1888.4 607.0C1890.8 607.1 1893.1 607.1 1895.5 607.1C1897.8 607.2 1900.1 607.2 1902.5 607.2C1904.8 607.3 1907.2 607.3 1909.5 607.3C1911.9 607.3 1914.2 607.3 1916.6 607.3C1918.9 607.3 1921.3 607.3 1923.6 607.3C1926.0 607.3 1928.3 607.3 1930.7 607.3C1933.0 607.3 1935.3 607.3 1937.7 607.3C1940.0 607.3 1942.4 607.3 1944.7 607.3C1947.1 607.3 1949.4 607.3 1951.8 607.3C1954.1 607.3 1956.5 607.3 1958.8 607.3C1961.2 607.3 1963.5 607.3 1965.9 607.3C1968.2 607.3 1970.6 607.3 1972.9 607.3C1975.2 607.3 1977.6 607.3 1979.9 607.3C1982.3 607.3 1984.6 607.3 1987.0 607.3C1989.3 607.3 1991.7 607.3 1994.0 607.3C1996.4 607.3 1998.7 607.3 2001.1 607.3C2003.4 607.3 2005.8 607.3 2008.1 607.3C2010.4 607.3 2012.8 607.3 2015.1 607.2C2017.5 607.2 2019.8 607.2 2022.2 607.2C2024.5 607.2 2026.9 607.2 2029.2 607.2C2031.6 607.2 2033.9 607.2 2036.3 607.1C2038.6 607.1 2041.0 607.1 2043.3 607.1C2045.6 607.1 2048.0 607.1 2050.3 607.0C2052.7 607.0 2055.0 607.0 2057.4 607.0C2059.7 607.0 2062.1 606.9 2064.4 606.9C2066.8 606.9 2069.1 606.9 2071.5 606.8C2073.8 606.8 2076.2 606.8 2078.5 606.8" stroke="#404040"/><use href="#c_black" y="0.6" stroke="#404040"/><use href="#c_black" y="-0.6" stroke="#404040"/>
</g>
<g font-size="81"><text x="167.6" y="1563.4" text-anchor="middle">100</text><text x="645.0" y="1563.4" text-anchor="middle">200</text><text x="1122.3" y="1563.4" text-anchor="middle">300</text><text x="1599.7" y="1563.4" text-anchor="middle">400</text><text x="2077.0" y="1563.4" text-anchor="middle">500</text></g>
<g font-size="65.7"><text transform="translate(1519.7 568.8) scale(1 1.0)">5Cu/SiO<tspan dy="19.3" dx="-1" font-size="44">2</tspan><tspan dy="-19.3" dx="1">-AE-C500</tspan></text><text transform="translate(1625.4 835.5) scale(1 1.0)">5Cu/SiO<tspan dy="19.3" dx="-1" font-size="44">2</tspan><tspan dy="-19.3" dx="1">-AE</tspan></text><text transform="translate(1519.7 1095.3) scale(1 1.0)">5Cu/SiO<tspan dy="19.3" dx="-1" font-size="44">2</tspan><tspan dy="-19.3" dx="1">-AE-C300</tspan></text><text transform="translate(1623.4 1312.3) scale(1 1.0)">5Cu/SiO<tspan dy="19.3" dx="-1" font-size="44">2</tspan><tspan dy="-19.3" dx="1">-IWI</tspan></text></g>
<g font-size="111.2">
<text x="741" y="1665.6">Temperature </text>
<text transform="translate(1394.9 1666.4) scale(1.137 0.973)">(</text>
<text x="1432.3" y="1672.6" font-size="122">°</text>
<text x="1474.2" y="1667.3" font-size="116">C</text>
<text transform="translate(1551.6 1666.4) scale(1.137 0.973)">)</text>
</g>
<g transform="translate(125.8 1162.2) rotate(-90) scale(1 1.02)" font-size="112">
<text x="0" y="0">TCD signal </text>
<text transform="translate(570.4 -0.5) scale(1.137 0.97)">(</text>
<text x="609.8" y="0">a.u.</text>
<text transform="translate(783.6 -0.5) scale(1.137 0.97)">)</text>
</g>
</svg>
</body></html>
